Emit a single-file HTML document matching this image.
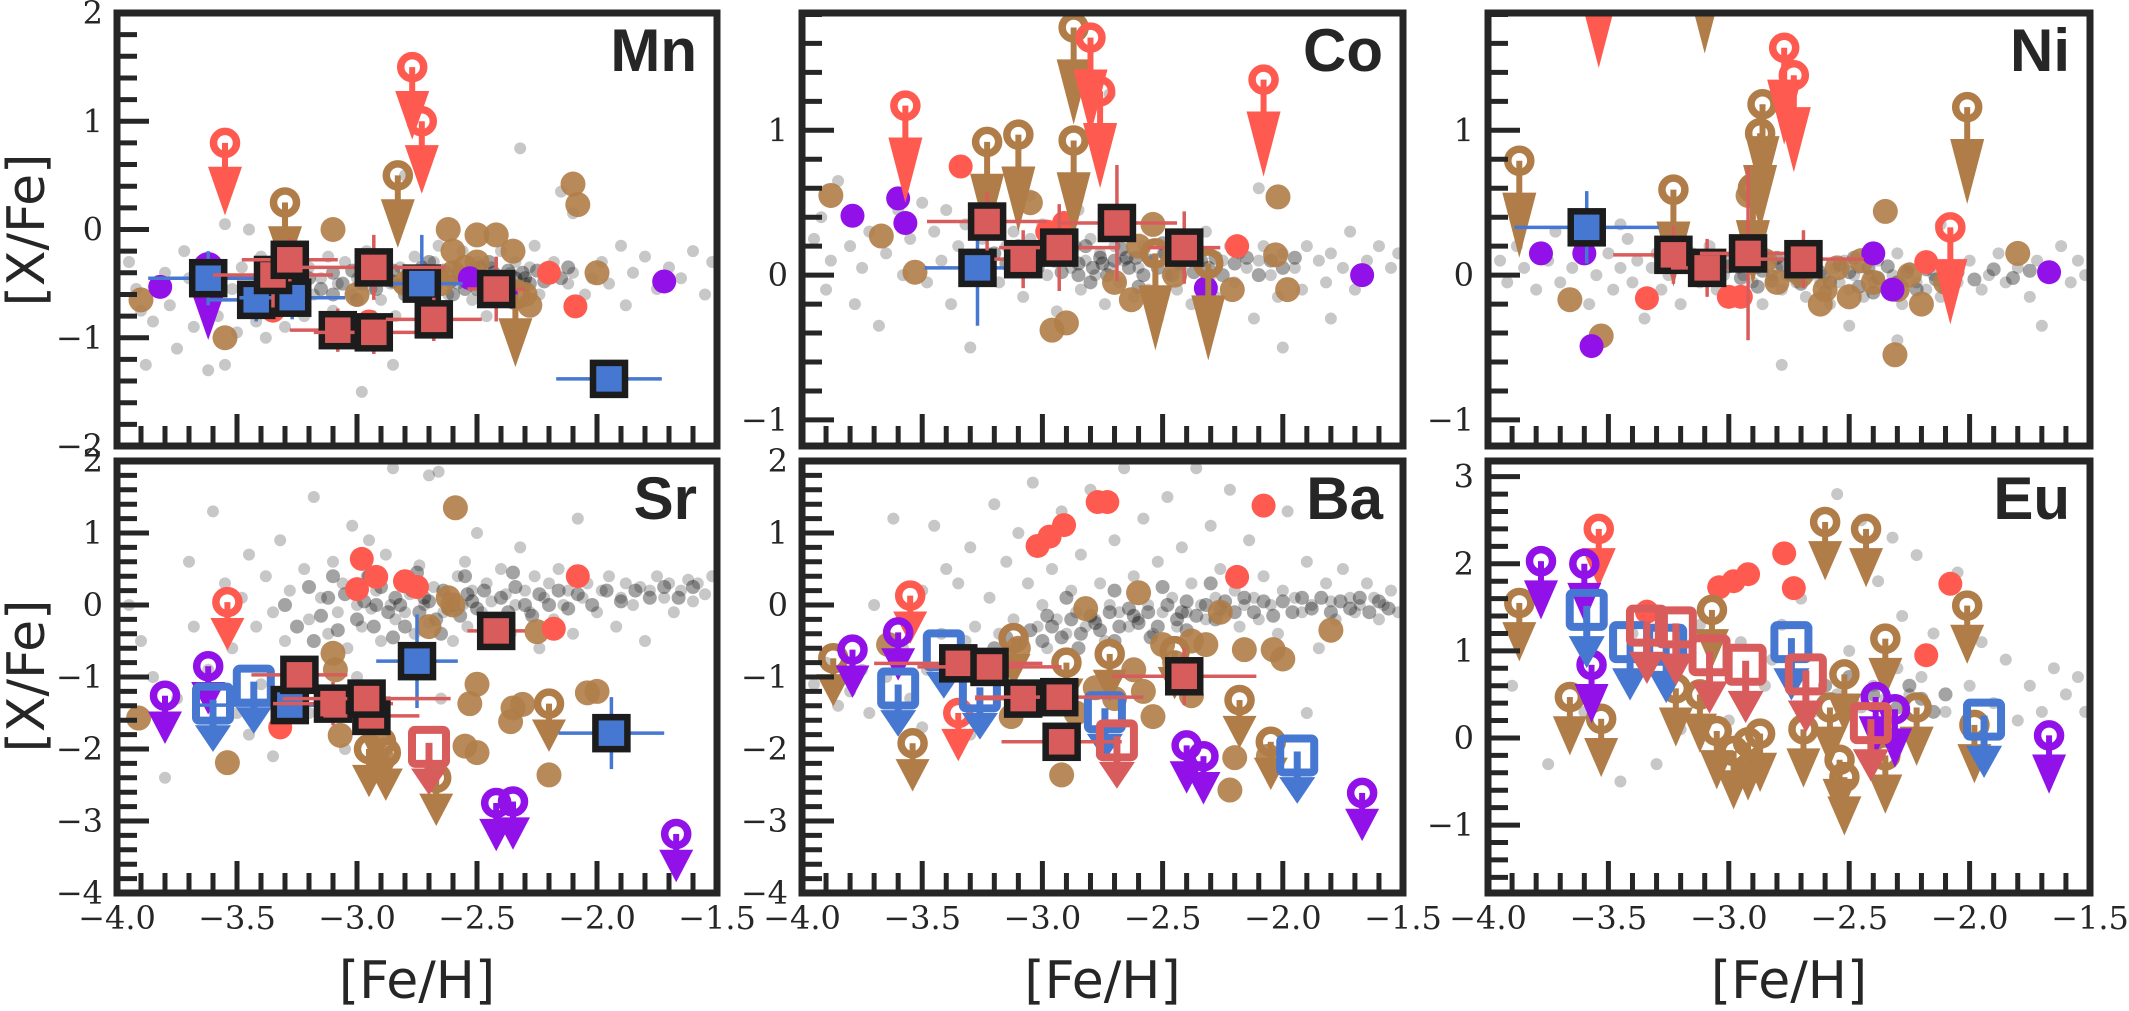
<!DOCTYPE html>
<html><head><meta charset="utf-8">
<style>
html,body{margin:0;padding:0;background:#fff;}
svg{display:block;}
.tick{font-family:"DejaVu Serif","Liberation Serif",serif;font-size:32px;fill:#262626;}
.axlab{font-family:"DejaVu Sans","Liberation Sans",sans-serif;font-size:52px;fill:#262626;}
.plab{font-family:"Liberation Sans","DejaVu Sans",sans-serif;font-weight:bold;font-size:60px;fill:#262626;}
</style></head>
<body>
<svg id="fig" width="2129" height="1011" viewBox="0 0 2129 1011" xmlns="http://www.w3.org/2000/svg"></svg>
<script>
// ---------- DATA ----------
const mnGray=[[-3.95,-0.3],[-3.92,-0.55],[-3.9,-0.75],[-3.88,-1.25],[-3.85,-0.85],[-3.8,-0.4],[-3.78,-0.7],[-3.75,-1.1],[-3.72,-0.2],[-3.7,-0.45],[-3.68,-0.9],[-3.65,-0.3],[-3.62,-1.3],[-3.58,-0.8],[-3.55,0.05],[-3.52,-0.55],[-3.5,-0.95],[-3.48,-0.35],[-3.45,0.0],[-3.42,-0.85],[-3.4,-0.25],[-3.38,-1.0],[-3.35,-0.5],[-3.32,-0.7],[-3.3,-0.9],[-3.28,-0.15],[-3.25,-0.5],[-3.22,-0.8],[-3.2,-0.35],[-3.18,-0.6],[-3.15,-0.45],[-3.12,-0.25],[-3.1,-0.75],[-3.08,-0.5],[-3.05,-0.3],[-3.02,-0.6],[-3.0,-0.45],[-2.98,-1.5],[-2.96,-0.2],[-2.94,-0.55],[-2.92,-0.4],[-2.9,-0.65],[-2.88,-0.3],[-2.86,-0.5],[-2.84,-0.8],[-2.82,-0.35],[-2.8,-0.45],[-2.78,-0.6],[-2.76,-0.25],[-2.74,-0.4],[-2.72,0.6],[-2.7,-0.55],[-2.68,-0.3],[-2.66,-0.15],[-2.64,-0.45],[-2.62,-0.6],[-2.6,-0.35],[-2.58,-0.5],[-2.56,-0.2],[-2.54,-0.4],[-2.52,-0.65],[-2.5,-0.3],[-2.48,-0.5],[-2.46,-0.8],[-2.44,-0.35],[-2.42,-0.45],[-2.4,-0.2],[-2.38,-0.55],[-2.36,-0.4],[-2.34,-0.3],[-2.32,0.75],[-2.3,-0.5],[-2.28,-0.35],[-2.26,-0.15],[-2.24,-0.6],[-2.2,-0.45],[-2.18,-0.3],[-2.15,0.35],[-2.12,-0.5],[-2.1,-0.4],[-2.05,-0.6],[-2.02,-0.45],[-1.98,-0.3],[-1.95,-0.5],[-1.9,-0.15],[-1.88,-0.7],[-1.85,-0.4],[-1.8,-0.25],[-1.75,-0.55],[-1.7,-0.35],[-1.65,-0.45],[-1.6,-0.2],[-1.55,-0.6],[-1.52,-0.3],[-2.85,-1.25],[-3.55,-1.25],[-2.1,0.15],[-2.8,0.5]];
const mnCore=[[-3.2,-0.45],[-3.15,-0.55],[-3.1,-0.4],[-3.06,-0.5],[-3.02,-0.38],[-2.98,-0.5],[-2.95,-0.42],[-2.92,-0.55],[-2.88,-0.45],[-2.85,-0.38],[-2.82,-0.52],[-2.79,-0.42],[-2.76,-0.5],[-2.73,-0.35],[-2.7,-0.45],[-2.67,-0.52],[-2.64,-0.38],[-2.61,-0.48],[-2.58,-0.4],[-2.55,-0.55],[-2.52,-0.42],[-2.49,-0.35],[-2.46,-0.48],[-2.43,-0.4],[-2.4,-0.52],[-2.37,-0.38],[-2.34,-0.45],[-2.31,-0.4],[-2.28,-0.5],[-2.25,-0.38],[-2.22,-0.48],[-2.9,-0.3],[-2.8,-0.6],[-2.7,-0.3],[-2.6,-0.6],[-2.5,-0.55],[-2.45,-0.3],[-3.0,-0.65],[-3.1,-0.6],[-2.35,-0.55],[-2.65,-0.42],[-2.75,-0.45],[-2.85,-0.48],[-2.55,-0.45],[-2.3,-0.45],[-2.2,-0.38],[-2.15,-0.45],[-2.12,-0.35]];
const mnOrange=[[-3.9,-0.65],[-3.55,-1.0],[-3.1,0.0],[-2.62,0.0],[-2.5,-0.05],[-2.42,-0.05],[-2.35,-0.2],[-2.1,0.42],[-2.08,0.23],[-2.5,-0.3],[-2.6,-0.4],[-2.65,-0.5],[-2.3,-0.6],[-2.28,-0.7],[-2.0,-0.4],[-2.8,-0.5],[-3.0,-0.6],[-2.55,-0.35],[-2.6,-0.2]];
const mnRed=[[-2.2,-0.4],[-2.09,-0.71],[-3.35,-0.75],[-2.95,-0.85]];
const mnPurple=[[-3.82,-0.53],[-1.72,-0.48],[-2.53,-0.45],[-2.38,-0.6]];
const mnLimOrange=[[-3.3,0.25],[-2.83,0.5],[-2.34,-0.6]];
const mnLimRed=[[-3.55,0.8],[-2.77,1.5],[-2.73,1.0]];
const mnLimPurple=[[-3.62,-0.35]];
const mnSqBlue=[[-3.62,-0.45,0.25,0.25],[-3.42,-0.65,0.2,0.2],[-3.27,-0.63,0.22,0.2],[-2.73,-0.5,0.17,0.45],[-1.95,-1.38,0.22,0.15]];
const mnSqRed=[[-3.35,-0.42,0.25,0.3],[-3.28,-0.28,0.2,0.2],[-2.93,-0.35,0.3,0.3],[-3.08,-0.93,0.2,0.2],[-2.93,-0.95,0.25,0.2],[-2.68,-0.83,0.2,0.2],[-2.42,-0.55,0.12,0.3]];
const mnHollowBlue=[], mnHollowRed=[];

const coGray=[[-3.95,0.25],[-3.92,0.4],[-3.9,-0.1],[-3.88,0.1],[-3.85,0.65],[-3.8,0.2],[-3.78,-0.2],[-3.75,0.05],[-3.72,0.3],[-3.68,-0.35],[-3.65,0.15],[-3.6,0.45],[-3.58,0.0],[-3.55,0.25],[-3.5,0.5],[-3.48,-0.05],[-3.45,0.3],[-3.42,0.1],[-3.4,0.45],[-3.38,-0.2],[-3.35,0.2],[-3.32,0.35],[-3.3,-0.5],[-3.28,0.05],[-3.25,0.25],[-3.22,0.15],[-3.2,0.4],[-3.18,-0.05],[-3.15,0.2],[-3.12,0.3],[-3.1,0.05],[-3.08,-0.15],[-3.05,0.25],[-3.02,0.1],[-3.0,0.35],[-2.98,0.0],[-2.96,0.2],[-2.94,-0.25],[-2.92,0.15],[-2.9,0.3],[-2.88,0.05],[-2.86,0.2],[-2.84,-0.1],[-2.82,0.1],[-2.8,0.25],[-2.78,0.0],[-2.76,0.15],[-2.74,-0.2],[-2.72,0.05],[-2.7,0.2],[-2.68,-0.05],[-2.66,0.1],[-2.64,0.3],[-2.62,-0.15],[-2.6,0.05],[-2.58,0.2],[-2.56,-0.1],[-2.54,0.1],[-2.52,-0.3],[-2.5,0.15],[-2.48,0.0],[-2.46,0.25],[-2.44,-0.1],[-2.42,0.05],[-2.4,0.2],[-2.38,-0.2],[-2.35,0.1],[-2.32,0.3],[-2.3,0.0],[-2.28,-0.15],[-2.25,0.1],[-2.22,0.2],[-2.2,-0.05],[-2.18,0.15],[-2.15,0.05],[-2.12,-0.3],[-2.1,0.1],[-2.08,0.2],[-2.05,0.0],[-2.02,-0.15],[-2.0,0.15],[-1.95,0.05],[-1.92,-0.1],[-1.9,0.2],[-1.85,0.1],[-1.82,-0.05],[-1.8,0.15],[-1.75,0.05],[-1.72,0.3],[-1.7,-0.1],[-1.65,0.1],[-1.6,0.2],[-1.55,0.05],[-1.52,0.15],[-2.72,1.25],[-2.0,-0.5],[-1.8,-0.3],[-3.05,0.55],[-2.85,0.45],[-2.1,0.6]];
const coCore=[[-3.2,0.15],[-3.15,0.08],[-3.1,0.2],[-3.06,0.12],[-3.02,0.05],[-2.98,0.18],[-2.95,0.1],[-2.92,0.02],[-2.88,0.15],[-2.85,0.08],[-2.82,0.2],[-2.79,0.05],[-2.76,0.12],[-2.73,0.0],[-2.7,0.1],[-2.67,0.18],[-2.64,0.05],[-2.61,0.12],[-2.58,0.0],[-2.55,0.1],[-2.52,0.05],[-2.49,0.15],[-2.46,0.0],[-2.43,0.08],[-2.4,0.12],[-2.37,0.02],[-2.34,0.1],[-2.31,0.05],[-2.28,0.12],[-2.25,0.0],[-2.2,0.08],[-2.15,0.12],[-2.1,0.0],[-2.05,0.1],[-2.0,0.05],[-1.95,0.12],[-2.9,0.25],[-2.8,-0.05],[-2.7,0.28],[-2.6,-0.08],[-2.5,0.22],[-2.85,0.0],[-2.75,0.08],[-2.65,0.12]];
const coOrange=[[-3.88,0.55],[-3.67,0.27],[-3.53,0.02],[-2.02,0.54],[-2.9,-0.33],[-2.96,-0.38],[-2.03,0.14],[-1.98,-0.1],[-2.21,-0.1],[-2.54,0.35],[-2.63,-0.17],[-2.7,-0.05],[-3.05,0.5],[-2.6,0.2],[-2.45,0.0]];
const coRed=[[-3.34,0.75],[-2.91,0.36],[-2.98,0.3],[-2.19,0.2]];
const coPurple=[[-3.79,0.41],[-3.6,0.53],[-3.57,0.36],[-2.32,-0.09],[-1.67,0.0]];
const coLimOrange=[[-3.23,0.92],[-3.1,0.97],[-2.87,0.93],[-2.87,1.71],[-2.53,0.15],[-2.31,0.08]];
const coLimRed=[[-3.57,1.17],[-2.8,1.64],[-2.76,1.27],[-2.08,1.35]];
const coLimPurple=[];
const coSqBlue=[[-3.27,0.05,0.22,0.4]];
const coSqRed=[[-3.23,0.37,0.25,0.2],[-3.08,0.11,0.12,0.2],[-2.93,0.19,0.25,0.3],[-2.69,0.36,0.25,0.4],[-2.41,0.19,0.15,0.25]];
const coHollowBlue=[], coHollowRed=[];

const niGray=[[-3.95,0.1],[-3.92,-0.05],[-3.88,0.2],[-3.85,0.05],[-3.8,-0.1],[-3.75,0.1],[-3.72,0.3],[-3.7,-0.05],[-3.65,0.05],[-3.6,0.2],[-3.58,-0.2],[-3.55,0.0],[-3.5,0.15],[-3.48,-0.1],[-3.45,0.05],[-3.42,0.25],[-3.4,-0.05],[-3.38,0.1],[-3.35,-0.3],[-3.32,0.05],[-3.3,0.15],[-3.28,-0.1],[-3.25,0.0],[-3.22,0.1],[-3.2,-0.2],[-3.18,0.05],[-3.15,0.15],[-3.12,-0.05],[-3.1,0.05],[-3.08,0.2],[-3.05,-0.1],[-3.02,0.0],[-3.0,0.1],[-2.98,-0.15],[-2.96,0.05],[-2.94,0.0],[-2.92,0.15],[-2.9,-0.05],[-2.88,0.05],[-2.86,-0.2],[-2.84,0.1],[-2.82,0.0],[-2.8,0.05],[-2.78,-0.1],[-2.76,0.0],[-2.74,0.1],[-2.72,-0.05],[-2.7,0.05],[-2.68,-0.15],[-2.66,0.0],[-2.64,0.1],[-2.62,-0.05],[-2.6,0.0],[-2.58,-0.2],[-2.56,0.05],[-2.54,-0.05],[-2.52,0.1],[-2.5,-0.1],[-2.48,0.0],[-2.46,0.05],[-2.44,-0.15],[-2.42,0.0],[-2.4,-0.05],[-2.38,0.1],[-2.35,-0.1],[-2.32,0.0],[-2.3,0.15],[-2.28,-0.2],[-2.25,0.05],[-2.22,-0.05],[-2.2,0.1],[-2.18,-0.1],[-2.15,0.0],[-2.12,-0.15],[-2.1,0.05],[-2.05,-0.05],[-2.0,0.1],[-1.95,-0.1],[-1.92,0.0],[-1.88,0.15],[-1.85,-0.05],[-1.8,0.05],[-1.75,-0.15],[-1.72,0.1],[-1.68,0.0],[-1.62,0.2],[-1.58,-0.05],[-1.55,0.1],[-1.52,0.0],[-2.78,-0.62],[-2.5,-0.35],[-2.3,-0.45],[-1.7,-0.35],[-2.12,0.35],[-3.45,0.35]];
const niCore=[[-3.1,0.08],[-3.05,0.02],[-3.0,0.06],[-2.95,-0.02],[-2.9,0.1],[-2.86,0.03],[-2.82,-0.04],[-2.78,0.07],[-2.74,0.0],[-2.7,-0.06],[-2.66,0.05],[-2.62,0.02],[-2.58,-0.05],[-2.54,0.07],[-2.5,0.02],[-2.46,-0.08],[-2.42,0.05],[-2.38,-0.02],[-2.34,0.06],[-2.3,-0.05],[-2.26,0.02],[-2.22,-0.1],[-2.18,0.04],[-2.14,-0.03],[-2.1,-0.08],[-2.05,0.02],[-1.98,-0.03],[-1.9,0.04],[-1.82,-0.02],[-1.75,0.03],[-2.88,-0.08],[-2.68,0.1],[-2.48,0.12],[-2.4,-0.12],[-2.6,-0.12],[-2.8,0.12]];
const niOrange=[[-3.66,-0.17],[-3.53,-0.42],[-2.35,0.44],[-2.31,-0.55],[-1.8,0.15],[-2.92,0.55],[-2.8,-0.05],[-2.7,0.0],[-2.6,-0.1],[-2.55,0.05],[-2.5,-0.15],[-2.45,0.1],[-2.4,-0.05],[-2.3,-0.1],[-2.25,0.0],[-2.2,-0.2],[-2.1,-0.05],[-2.62,-0.2],[-2.85,0.1]];
const niRed=[[-3.34,-0.16],[-3.0,-0.15],[-2.95,-0.15],[-2.18,0.09]];
const niPurple=[[-3.78,0.15],[-3.6,0.15],[-3.57,-0.49],[-2.4,0.15],[-2.32,-0.1],[-1.67,0.02]];
const niLimOrange=[[-3.87,0.79],[-3.23,0.59],[-2.86,1.18],[-2.87,0.98],[-2.9,0.6],[-2.01,1.16],[-3.1,2.2]];
const niLimRed=[[-2.08,0.33],[-2.77,1.57],[-2.73,1.38],[-3.54,2.1]];
const niLimPurple=[];
const niSqBlue=[[-3.59,0.33,0.3,0.25]];
const niSqRed=[[-3.23,0.14,0.25,0.2],[-3.09,0.05,0.15,0.2],[-2.92,0.15,0.2,0.6],[-2.69,0.11,0.25,0.2]];
const niHollowBlue=[], niHollowRed=[];

const srGray=[[-3.95,0.0],[-3.9,-0.5],[-3.85,-1.0],[-3.8,-2.4],[-3.75,-1.3],[-3.7,0.6],[-3.68,-0.3],[-3.62,-0.9],[-3.6,1.3],[-3.55,0.3],[-3.52,-0.6],[-3.5,-1.5],[-3.48,0.1],[-3.45,0.7],[-3.42,-0.3],[-3.4,-1.1],[-3.38,0.4],[-3.35,-0.1],[-3.32,0.9],[-3.3,-0.5],[-3.28,0.2],[-3.25,-0.8],[-3.22,0.5],[-3.2,-0.2],[-3.18,1.5],[-3.15,0.1],[-3.12,-0.4],[-3.1,0.6],[-3.08,-0.1],[-3.06,0.3],[-3.04,-0.6],[-3.02,1.1],[-3.0,0.0],[-2.98,-0.3],[-2.96,0.4],[-2.94,-0.05],[-2.92,0.2],[-2.9,-0.5],[-2.88,0.7],[-2.86,0.0],[-2.84,-0.2],[-2.82,0.35],[-2.8,-0.1],[-2.78,0.15],[-2.76,-0.4],[-2.74,0.55],[-2.72,0.0],[-2.7,-0.25],[-2.68,0.25],[-2.66,1.85],[-2.64,-0.1],[-2.62,0.1],[-2.6,-0.5],[-2.58,0.4],[-2.56,0.0],[-2.54,-0.3],[-2.52,0.2],[-2.5,1.0],[-2.48,-0.1],[-2.46,0.3],[-2.44,0.05],[-2.42,-0.2],[-2.4,0.5],[-2.38,0.15],[-2.36,-0.4],[-2.34,0.0],[-2.32,0.8],[-2.3,0.2],[-2.28,-0.1],[-2.26,0.4],[-2.24,-0.6],[-2.22,0.1],[-2.2,0.3],[-2.18,-0.2],[-2.16,0.5],[-2.14,0.0],[-2.12,0.2],[-2.1,-0.4],[-2.08,1.2],[-2.06,0.1],[-2.04,0.3],[-2.0,-0.1],[-1.98,0.2],[-1.95,0.4],[-1.92,-0.3],[-1.9,0.1],[-1.88,0.3],[-1.85,0.0],[-1.82,0.25],[-1.8,-0.5],[-1.78,0.2],[-1.75,0.4],[-1.72,0.1],[-1.7,0.3],[-1.68,-0.1],[-1.65,0.2],[-1.62,0.35],[-1.6,0.05],[-1.58,0.3],[-1.55,0.15],[-1.52,0.4],[-2.85,1.9],[-2.7,1.8],[-3.0,-1.0],[-3.2,-1.5],[-2.65,-1.3],[-3.35,-2.1],[-2.95,0.9],[-2.55,0.6],[-3.45,-1.8],[-3.05,-2.0]];
const srCore=[[-3.3,0.0],[-3.25,-0.3],[-3.2,0.25],[-3.15,-0.15],[-3.12,0.1],[-3.08,-0.35],[-3.05,0.15],[-3.0,-0.2],[-2.97,0.05],[-2.93,-0.3],[-2.9,0.25],[-2.87,-0.1],[-2.84,0.1],[-2.8,-0.3],[-2.77,0.2],[-2.74,-0.1],[-2.7,0.05],[-2.67,-0.2],[-2.64,0.2],[-2.6,0.0],[-2.57,-0.15],[-2.54,0.15],[-2.5,-0.05],[-2.47,0.2],[-2.44,-0.25],[-2.4,0.1],[-2.37,-0.1],[-2.34,0.25],[-2.3,0.0],[-2.27,-0.15],[-2.24,0.15],[-2.2,0.0],[-2.16,0.2],[-2.12,-0.05],[-2.08,0.15],[-2.02,0.0],[-1.96,0.2],[-1.9,0.05],[-1.84,0.2],[-1.78,0.1],[-1.72,0.25],[-1.66,0.1],[-1.6,0.25],[-2.95,0.4],[-2.75,0.45],[-2.55,0.4],[-2.35,0.45],[-2.85,-0.45],[-2.65,-0.4],[-2.45,-0.45],[-3.1,0.4],[-3.18,-0.5],[-2.92,0.0],[-2.72,0.1],[-2.52,0.05],[-2.62,-0.05],[-2.82,0.0]];
const srOrange=[[-2.59,1.35],[-3.54,-2.19],[-3.91,-1.57],[-3.1,-0.67],[-3.09,-0.9],[-3.07,-1.81],[-2.5,-1.1],[-2.53,-1.37],[-2.55,-1.96],[-2.5,-2.05],[-2.36,-1.62],[-2.35,-1.43],[-2.31,-1.38],[-2.2,-2.36],[-2.04,-1.22],[-2.0,-1.2],[-2.25,-0.37],[-2.7,-0.3],[-2.62,0.1],[-2.6,0.0],[-2.92,-1.85],[-2.9,-2.1]];
const srRed=[[-2.98,0.64],[-2.92,0.39],[-3.0,0.22],[-2.8,0.33],[-2.75,0.25],[-2.08,0.4],[-2.18,-0.33],[-3.32,-1.7]];
const srPurple=[];
const srLimOrange=[[-2.95,-2.0],[-2.9,-1.9],[-2.67,-2.4],[-2.2,-1.37],[-2.88,-2.05]];
const srLimRed=[[-3.54,0.04]];
const srLimPurple=[[-3.8,-1.26],[-3.62,-0.85],[-2.42,-2.75],[-2.35,-2.73],[-1.67,-3.18]];
const srSqBlue=[[-2.75,-0.78,0.17,0.65],[-1.94,-1.78,0.22,0.5],[-3.28,-1.39,0.4,0.15]];
const srSqRed=[[-2.42,-0.36,0.12,0.25],[-3.24,-0.97,0.2,0.2],[-3.1,-1.37,0.25,0.3],[-2.94,-1.54,0.2,0.25],[-2.96,-1.3,0.35,0.2]];
const srHollowBlue=[[-3.6,-1.37],[-3.43,-1.12]];
const srHollowRed=[[-2.7,-1.97]];

const baGray=[[-3.95,-1.1],[-3.9,-0.8],[-3.85,-1.4],[-3.8,-1.2],[-3.75,-0.9],[-3.72,-1.5],[-3.7,0.0],[-3.65,-1.0],[-3.62,1.2],[-3.58,-0.6],[-3.55,-1.3],[-3.5,0.2],[-3.48,-0.9],[-3.45,1.1],[-3.42,-0.4],[-3.4,0.5],[-3.38,-0.7],[-3.35,0.3],[-3.32,-0.5],[-3.3,0.8],[-3.28,-0.3],[-3.25,-0.8],[-3.22,0.1],[-3.2,1.4],[-3.18,-0.4],[-3.15,0.6],[-3.12,-0.2],[-3.1,1.0],[-3.08,-0.5],[-3.06,0.3],[-3.04,1.7],[-3.02,-0.3],[-3.0,0.0],[-2.98,-0.6],[-2.96,0.5],[-2.94,-0.2],[-2.92,1.3],[-2.9,-0.4],[-2.88,0.2],[-2.86,-0.1],[-2.84,0.7],[-2.82,-0.3],[-2.8,1.6],[-2.78,-0.2],[-2.76,0.3],[-2.74,-0.5],[-2.72,0.0],[-2.7,0.9],[-2.68,-0.1],[-2.66,1.9],[-2.64,-0.3],[-2.62,0.4],[-2.6,-0.2],[-2.58,1.2],[-2.56,0.0],[-2.54,-0.4],[-2.52,0.6],[-2.5,-0.1],[-2.48,1.5],[-2.46,0.1],[-2.44,-0.3],[-2.42,0.8],[-2.4,-0.1],[-2.38,0.3],[-2.36,1.9],[-2.34,0.0],[-2.32,-0.2],[-2.3,1.1],[-2.28,0.1],[-2.26,0.5],[-2.24,-0.1],[-2.22,1.6],[-2.2,0.2],[-2.18,-0.3],[-2.16,0.0],[-2.14,0.9],[-2.12,0.1],[-2.1,-0.2],[-2.08,0.4],[-2.05,0.0],[-2.02,-0.4],[-2.0,0.2],[-1.98,1.3],[-1.95,0.1],[-1.92,-0.1],[-1.9,0.6],[-1.88,0.0],[-1.85,-0.6],[-1.82,0.3],[-1.8,0.05],[-1.78,-0.2],[-1.75,0.5],[-1.72,0.1],[-1.7,-0.1],[-1.68,0.0],[-1.65,0.3],[-1.62,0.1],[-1.6,-0.2],[-1.58,0.0],[-1.55,0.2],[-1.52,-0.1],[-1.9,-1.5],[-3.3,-1.8],[-3.5,-1.7]];
const baCore=[[-3.2,-0.6],[-3.15,-0.45],[-3.1,-0.55],[-3.05,-0.35],[-3.0,-0.5],[-2.96,-0.3],[-2.92,-0.45],[-2.88,-0.2],[-2.84,-0.4],[-2.8,-0.15],[-2.76,-0.35],[-2.72,-0.1],[-2.68,-0.3],[-2.64,-0.05],[-2.6,-0.25],[-2.56,-0.1],[-2.52,-0.3],[-2.48,0.0],[-2.44,-0.2],[-2.4,0.05],[-2.36,-0.15],[-2.32,0.0],[-2.28,-0.2],[-2.24,0.05],[-2.2,-0.1],[-2.16,0.1],[-2.12,-0.1],[-2.08,0.05],[-2.04,-0.15],[-2.0,0.05],[-1.96,-0.1],[-1.92,0.1],[-1.88,-0.05],[-1.84,0.1],[-1.8,-0.1],[-1.76,0.05],[-1.72,-0.05],[-1.68,0.1],[-1.64,-0.1],[-1.6,0.05],[-1.56,-0.05],[-2.85,-0.6],[-2.7,-0.5],[-2.55,-0.45],[-2.4,-0.35],[-2.9,0.1],[-2.7,0.2],[-2.5,0.25],[-2.3,0.3],[-2.62,-0.15],[-2.42,-0.1],[-2.78,-0.25],[-2.98,-0.15],[-2.26,-0.05]];
const baOrange=[[-2.6,0.17],[-2.82,-0.05],[-2.26,-0.1],[-1.8,-0.35],[-2.16,-0.62],[-2.04,-0.62],[-2.0,-0.75],[-2.2,-2.12],[-2.22,-2.57],[-2.92,-2.36],[-2.06,-2.1],[-2.5,-0.55],[-2.38,-0.5],[-2.32,-0.55],[-2.58,-1.2],[-2.54,-1.55],[-2.86,-1.5],[-3.1,-0.6],[-3.64,-0.55],[-2.38,-1.26],[-2.78,-1.15],[-3.13,-1.55],[-2.62,-0.9],[-2.7,-1.3],[-2.45,-0.8]];
const baRed=[[-2.77,1.43],[-2.73,1.43],[-2.91,1.11],[-2.97,0.95],[-3.02,0.82],[-2.08,1.38],[-2.19,0.39]];
const baPurple=[];
const baLimOrange=[[-3.87,-0.74],[-3.54,-1.92],[-3.12,-0.46],[-2.9,-0.8],[-2.72,-0.68],[-2.18,-1.32],[-2.45,-0.64],[-2.05,-1.9]];
const baLimRed=[[-3.55,0.13],[-3.35,-1.5]];
const baLimPurple=[[-3.79,-0.62],[-3.6,-0.38],[-2.4,-1.95],[-2.33,-2.1],[-1.67,-2.61]];
const baSqBlue=[];
const baSqRed=[[-3.35,-0.81,0.35,0.2],[-3.22,-0.86,0.3,0.2],[-3.08,-1.3,0.2,0.2],[-2.93,-1.28,0.35,0.2],[-2.92,-1.9,0.25,0.15],[-2.41,-0.99,0.3,0.4]];
const baHollowBlue=[[-3.6,-1.16],[-3.41,-0.63],[-3.26,-1.2],[-2.74,-1.49],[-1.94,-2.09]];
const baHollowRed=[[-2.69,-1.88]];

const euGray=[[-3.9,0.6],[-3.75,-0.3],[-3.6,0.3],[-3.45,-0.5],[-3.4,1.2],[-3.35,1.5],[-3.3,-0.3],[-3.2,0.1],[-3.12,1.3],[-3.05,-0.4],[-3.0,0.2],[-2.95,1.1],[-2.9,-0.2],[-2.85,0.6],[-2.82,0.9],[-2.78,1.3],[-2.7,1.6],[-2.65,0.3],[-2.6,2.0],[-2.55,2.8],[-2.5,1.0],[-2.48,0.4],[-2.45,2.5],[-2.4,0.6],[-2.38,1.8],[-2.35,0.2],[-2.32,2.3],[-2.3,0.8],[-2.28,1.4],[-2.25,0.5],[-2.22,2.1],[-2.2,0.7],[-2.15,1.2],[-2.1,0.3],[-2.05,1.9],[-2.0,0.6],[-1.95,1.1],[-1.9,0.4],[-1.85,0.9],[-1.8,0.2],[-1.75,0.6],[-1.7,0.3],[-1.65,0.8],[-1.6,0.5],[-1.55,0.7],[-1.52,0.3],[-2.45,0.35],[-2.35,0.45],[-2.55,0.5]];
const euCore=[[-2.4,0.5],[-2.3,0.35],[-2.25,0.6],[-2.2,0.45],[-2.15,0.3],[-2.1,0.5],[-2.6,0.6],[-2.5,0.7]];
const euOrange=[];
const euRed=[[-2.77,2.12],[-2.73,1.72],[-2.92,1.88],[-2.98,1.8],[-3.04,1.73],[-2.08,1.77],[-2.18,0.95],[-3.34,1.45]];
const euPurple=[];
const euLimOrange=[[-3.87,1.55],[-3.66,0.47],[-3.53,0.22],[-3.22,0.57],[-3.07,1.47],[-3.05,0.08],[-2.92,-0.05],[-2.6,2.48],[-2.43,2.4],[-2.52,0.73],[-2.35,1.14],[-2.01,1.52],[-2.58,0.35],[-2.69,0.1],[-2.54,-0.25],[-2.52,-0.45],[-2.35,-0.2],[-2.22,0.35],[-2.98,-0.15],[-2.87,0.05],[-3.12,0.5],[-1.98,0.15]];
const euLimRed=[[-3.54,2.4]];
const euLimPurple=[[-3.78,2.03],[-3.6,2.0],[-3.57,0.84],[-2.39,0.47],[-2.31,0.33],[-1.67,0.03]];
const euSqBlue=[], euSqRed=[];
const euHollowBlue=[[-3.59,1.47],[-3.41,1.1],[-3.26,1.07],[-2.74,1.1],[-1.94,0.21]];
const euHollowRed=[[-3.34,1.29],[-3.22,1.27],[-3.08,0.95],[-2.93,0.84],[-2.68,0.73],[-2.41,0.17]];

const xTickLabels=["\u22124.0","\u22123.5","\u22123.0","\u22122.5","\u22122.0","\u22121.5"];

// ---------- LAYOUT ----------
const COL=[[117,717],[802,1403],[1488,2090]];
const ROW=[[13,446],[461,893]];
const C={orange:"#B07D48",red:"#FF5A4F",redSq:"#D95C5C",blue:"#4677D1",purple:"#9111E8",edge:"#1c1c1c",ink:"#262626"};
const panels=[
 {id:"mn",label:"Mn",c:0,r:0,lo:-2,hi:2,maj:[-2,-1,0,1,2],gray:mnGray,core:mnCore,orange:mnOrange,red:mnRed,purple:mnPurple,limO:mnLimOrange,limR:mnLimRed,limP:mnLimPurple,sqB:mnSqBlue,sqR:mnSqRed,hB:mnHollowBlue,hR:mnHollowRed},
 {id:"co",label:"Co",c:1,r:0,lo:-1.18,hi:1.81,maj:[-1,0,1],gray:coGray,core:coCore,orange:coOrange,red:coRed,purple:coPurple,limO:coLimOrange,limR:coLimRed,limP:coLimPurple,sqB:coSqBlue,sqR:coSqRed,hB:coHollowBlue,hR:coHollowRed},
 {id:"ni",label:"Ni",c:2,r:0,lo:-1.18,hi:1.81,maj:[-1,0,1],gray:niGray,core:niCore,orange:niOrange,red:niRed,purple:niPurple,limO:niLimOrange,limR:niLimRed,limP:niLimPurple,sqB:niSqBlue,sqR:niSqRed,hB:niHollowBlue,hR:niHollowRed},
 {id:"sr",label:"Sr",c:0,r:1,lo:-4,hi:2,maj:[-4,-3,-2,-1,0,1,2],gray:srGray,core:srCore,orange:srOrange,red:srRed,purple:srPurple,limO:srLimOrange,limR:srLimRed,limP:srLimPurple,sqB:srSqBlue,sqR:srSqRed,hB:srHollowBlue,hR:srHollowRed},
 {id:"ba",label:"Ba",c:1,r:1,lo:-4,hi:2,maj:[-4,-3,-2,-1,0,1,2],gray:baGray,core:baCore,orange:baOrange,red:baRed,purple:baPurple,limO:baLimOrange,limR:baLimRed,limP:baLimPurple,sqB:baSqBlue,sqR:baSqRed,hB:baHollowBlue,hR:baHollowRed},
 {id:"eu",label:"Eu",c:2,r:1,lo:-1.78,hi:3.18,maj:[-1,0,1,2,3],gray:euGray,core:euCore,orange:euOrange,red:euRed,purple:euPurple,limO:euLimOrange,limR:euLimRed,limP:euLimPurple,sqB:euSqBlue,sqR:euSqRed,hB:euHollowBlue,hR:euHollowRed}
];
const NS="http://www.w3.org/2000/svg";
const svg=document.getElementById('fig');
function mk(tag,attrs,parent){const e=document.createElementNS(NS,tag);for(const k in attrs)e.setAttribute(k,attrs[k]);(parent||svg).appendChild(e);return e;}
const defs=mk('defs',{});

panels.forEach(p=>{
 const [x0,x1]=COL[p.c],[y0,y1]=ROW[p.r];
 const sx=v=>x0+(v+4)/2.5*(x1-x0);
 const sy=v=>y1-(v-p.lo)/(p.hi-p.lo)*(y1-y0);
 const g=mk('g',{});
 
 
 const cp=mk('clipPath',{id:'clip-'+p.id},defs);
 mk('rect',{x:x0,y:y0,width:x1-x0,height:y1-y0},cp);
 const plot=mk('g',{'clip-path':'url(#clip-'+p.id+')'},g);
 
 
 p.gray.forEach(d=>{const e=mk('circle',{cx:sx(d[0]),cy:sy(d[1]),r:6,fill:'#000','fill-opacity':0.22},plot);
  
  });
 p.core.forEach(d=>{const e=mk('circle',{cx:sx(d[0]),cy:sy(d[1]),r:7,fill:'#000','fill-opacity':0.36},plot);
  
  });
 const dot=(arr,col,r,op,name)=>arr.forEach(d=>{const e=mk('circle',{cx:sx(d[0]),cy:sy(d[1]),r:r,fill:col,'fill-opacity':op},plot);
  
  });
 dot(p.orange,C.orange,12.5,0.9,'orange-star');
 dot(p.red,C.red,12,1,'red-star');
 dot(p.purple,C.purple,12,1,'purple-star');
 const lim=(arr,col,name)=>arr.forEach(d=>{const cx=sx(d[0]),cy=sy(d[1]);
  const ty=sy(d[1]-0.22),tip=sy(d[1]-0.67);
  const gg=mk('g',{},plot);
  
  
  mk('line',{x1:cx,y1:cy,x2:cx,y2:ty+2,stroke:col,'stroke-width':6},gg);
  mk('polygon',{points:`${cx-17},${ty} ${cx+17},${ty} ${cx},${tip}`,fill:col},gg);
  mk('circle',{cx:cx,cy:cy,r:11.5,fill:'none',stroke:col,'stroke-width':7.5},gg);});
 lim(p.limO,C.orange,'orange-upper-limit');
 lim(p.limR,C.red,'red-upper-limit');
 lim(p.limP,C.purple,'purple-upper-limit');
 const hol=(arr,col,name)=>arr.forEach(d=>{const cx=sx(d[0]),cy=sy(d[1]);
  const ty=Math.max(sy(d[1]-0.3),cy+18),tip=sy(d[1]-0.67);
  const gg=mk('g',{},plot);
  
  
  mk('line',{x1:cx,y1:cy-4,x2:cx,y2:ty+2,stroke:col,'stroke-width':7},gg);
  mk('polygon',{points:`${cx-18},${ty} ${cx+18},${ty} ${cx},${tip}`,fill:col},gg);
  mk('rect',{x:cx-17,y:cy-17,width:34,height:34,rx:3,fill:'none',stroke:col,'stroke-width':8},gg);});
 hol(p.hB,C.blue,'blue-open-square-limit');
 hol(p.hR,C.redSq,'red-open-square-limit');
 const sq=(arr,col,name)=>arr.forEach(d=>{const cx=sx(d[0]),cy=sy(d[1]);
  const gg=mk('g',{},plot);
  
  
  mk('line',{x1:sx(d[0]-d[2]),y1:cy,x2:sx(d[0]+d[2]),y2:cy,stroke:col,'stroke-width':3.5},gg);
  mk('line',{x1:cx,y1:sy(d[1]-d[3]),x2:cx,y2:sy(d[1]+d[3]),stroke:col,'stroke-width':3.5},gg);
  mk('rect',{x:cx-16,y:cy-16,width:32,height:32,fill:col,stroke:C.edge,'stroke-width':6.5},gg);
  mk('line',{x1:cx-10,y1:cy,x2:cx+10,y2:cy,stroke:col,'stroke-width':3},gg);});
 sq(p.sqB,C.blue,'blue-square-star');
 sq(p.sqR,C.redSq,'red-square-star');
 const tk=mk('g',{stroke:C.ink,'stroke-width':5},g);
 
 
 for(let i=0;i<=25;i++){const v=-4+i*0.1,x=sx(v),L=(i%5===0)?32:20;mk('line',{x1:x,y1:y1,x2:x,y2:y1-L},tk);}
 const start=Math.ceil(p.lo*5-1e-6),end=Math.floor(p.hi*5+1e-6);
 for(let k=start;k<=end;k++){const v=k/5,y=sy(v),L=(k%5===0)?32:20;mk('line',{x1:x0,y1:y,x2:x0+L,y2:y},tk);}
 p.maj.forEach(v=>{const t=mk('text',{x:x0-14,y:sy(v)+11,'text-anchor':'end',class:'tick'},g);
  t.textContent=(v<0?'\u2212':'')+Math.abs(v);
  
  });
 if(p.r===1){xTickLabels.forEach((s,i)=>{const t=mk('text',{x:sx(-4+i*0.5),y:929,'text-anchor':'middle',class:'tick'},g);
  t.textContent=s;
  
  });}
 const fr=mk('rect',{x:x0,y:y0,width:x1-x0,height:y1-y0,fill:'none',stroke:C.ink,'stroke-width':7},g);
 
 
 const lb=mk('text',{x:x1-20,y:y0+58,'text-anchor':'end',class:'plab'},g);
 lb.textContent=p.label;
 
 
});
[[230,'top'],[676,'bottom']].forEach(([cy,n])=>{const t=mk('text',{x:0,y:0,'text-anchor':'middle',class:'axlab',transform:`translate(44,${cy}) rotate(-90)`});
 t.textContent='[X/Fe]';
 
 });
COL.forEach((c,i)=>{const t=mk('text',{x:(c[0]+c[1])/2,y:998,'text-anchor':'middle',class:'axlab'});
 t.textContent='[Fe/H]';
 
 });
</script>
</body></html>
